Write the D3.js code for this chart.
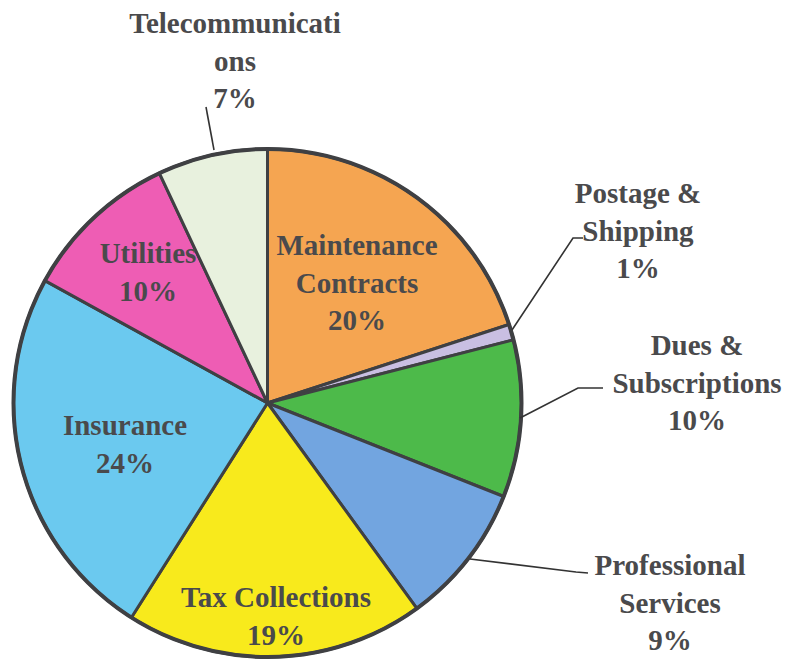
<!DOCTYPE html>
<html>
<head>
<meta charset="utf-8">
<script src="https://cdn.jsdelivr.net/npm/d3@7"></script>
<style>
  body { margin: 0; background: #fff; }
  .label { font-family: "Liberation Serif", Tinos, "Times New Roman", Times, "Nimbus Roman", "Nimbus Roman No9 L", FreeSerif, "Noto Serif", "DejaVu Serif", serif; font-weight: bold; }
</style>
</head>
<body>
<div id="chart"></div>
<script>
// slices, clockwise from 12 o'clock
const categories = ["Maintenance Contracts", "Postage & Shipping", "Dues & Subscriptions",
    "Professional Services", "Tax Collections", "Insurance", "Utilities", "Telecommunications"];
const values = [20, 1, 10, 9, 19, 24, 10, 7];
const colors = ["#F5A551", "#C9BFE2", "#4DBA4A", "#72A5E0", "#F8EA1C", "#6BC9EF", "#EE5DB4", "#E8F1DE"];
// label lines as printed (long words break in the original)
const labelLines = [
    ["Maintenance", "Contracts", "20%"],
    ["Postage &", "Shipping", "1%"],
    ["Dues &", "Subscriptions", "10%"],
    ["Professional", "Services", "9%"],
    ["Tax Collections", "19%"],
    ["Insurance", "24%"],
    ["Utilities", "10%"],
    ["Telecommunicati", "ons", "7%"]
];

const width = 796, height = 660;
const cx = 267.5, cy = 403, radius = 254;
const lineH = 37.5;

const svg = d3.select("#chart").append("svg")
    .attr("width", width)
    .attr("height", height);

const g = svg.append("g").attr("transform", `translate(${cx},${cy})`);

const pie = d3.pie().sort(null).value(d => d);
const arcs = pie(values);
const arc = d3.arc().innerRadius(0).outerRadius(radius);

g.selectAll("path.slice")
    .data(arcs)
    .enter()
    .append("path")
    .attr("class", "slice")
    .attr("d", arc)
    .attr("fill", (d, i) => colors[i])
    .attr("stroke", "#3f4043")
    .attr("stroke-width", 3)
    .attr("stroke-linejoin", "round");

g.append("circle")
    .attr("r", radius)
    .attr("fill", "none")
    .attr("stroke", "#3f4043")
    .attr("stroke-width", 4);

// label centre x and first-line y, page coords
const labelPos = [
    {x: 357, y: 245},
    {x: 638, y: 193},
    {x: 697, y: 345},
    {x: 670, y: 565},
    {x: 276, y: 597},
    {x: 125, y: 425},
    {x: 148, y: 253},
    {x: 235, y: 23}
];

// leader lines for outside labels
const leaders = [
    {i: 1, pts: [[512, 330], [573, 238], [583, 238]]},
    {i: 2, pts: [[520, 418], [578, 388], [603, 388]]},
    {i: 3, pts: [[470, 559], [576, 572], [588, 573]]},
    {i: 7, pts: [[214, 150], [206, 107]]}
];

svg.selectAll("path.leader")
    .data(leaders)
    .enter()
    .append("path")
    .attr("class", "leader")
    .attr("d", d => d3.line()(d.pts))
    .attr("fill", "none")
    .attr("stroke", "#333")
    .attr("stroke-width", 1.6);

const labels = svg.selectAll("text.label")
    .data(labelLines)
    .enter()
    .append("text")
    .attr("class", "label")
    .attr("text-anchor", "middle")
    .attr("font-size", "29px")
    .attr("fill", "#4a4a4c");

labels.each(function(lines, i) {
    const t = d3.select(this);
    lines.forEach((ln, j) => {
        t.append("tspan")
            .attr("x", labelPos[i].x)
            .attr("y", labelPos[i].y + j * lineH)
            .attr("dy", "0.35em")
            .text(ln);
    });
});
</script>
</body>
</html>
